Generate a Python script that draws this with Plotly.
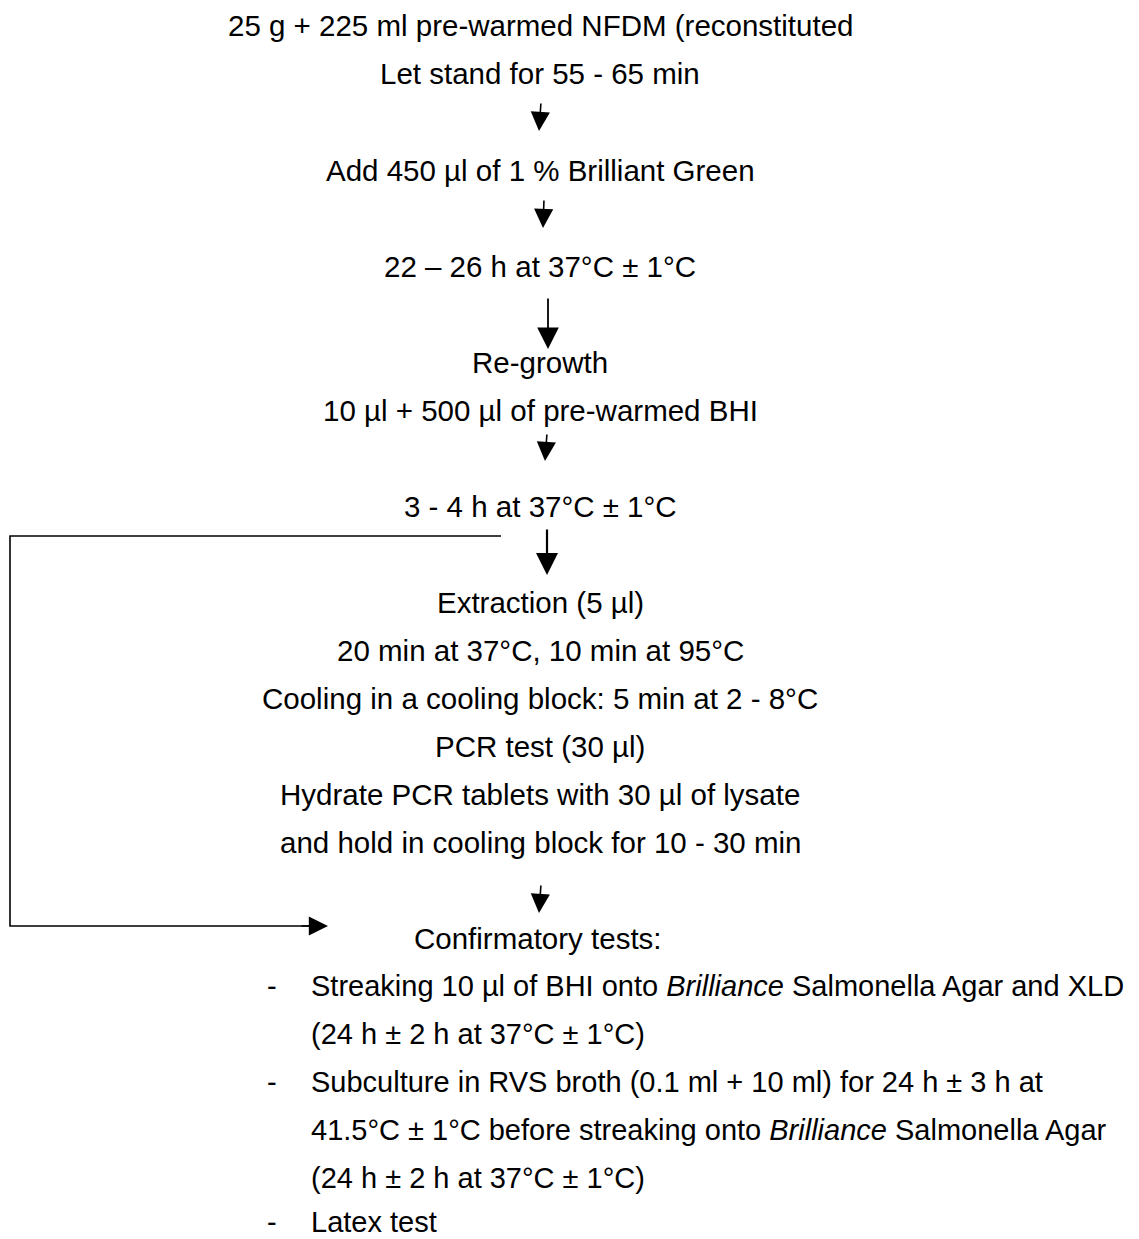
import plotly.graph_objects as go

W, H = 1139, 1239
PAGE_MARGIN = 8  # default body margin of the page

# ---- text content ----
center_lines = [
    "25 g + 225 ml pre-warmed NFDM (reconstituted",
    "Let stand for 55 - 65 min",
    "Add 450 µl of 1 % Brilliant Green",
    "22 – 26 h at 37°C ± 1°C",
    "Re-growth",
    "10 µl + 500 µl of pre-warmed BHI",
    "3 - 4 h at 37°C ± 1°C",
    "Extraction (5 µl)",
    "20 min at 37°C, 10 min at 95°C",
    "Cooling in a cooling block: 5 min at 2 - 8°C",
    "PCR test (30 µl)",
    "Hydrate PCR tablets with 30 µl of lysate",
    "and hold in cooling block for 10 - 30 min",
    "Confirmatory tests:",
]
center_y = [25.5, 73.5, 170, 266, 362, 410, 506, 602, 650, 698, 746, 794, 842, 938]
center_x = [540, 540, 540, 540, 540, 540, 540, 540, 540, 540, 540, 540, 540, 538]

bullet_marks = ["-", "", "-", "", "", "-"]
bullet_lines = [
    "Streaking 10 µl of BHI onto <i>Brilliance</i> Salmonella Agar and XLD",
    "(24 h ± 2 h at 37°C ± 1°C)",
    "Subculture in RVS broth (0.1 ml + 10 ml) for 24 h ± 3 h at",
    "41.5°C ± 1°C before streaking onto <i>Brilliance</i> Salmonella Agar",
    "(24 h ± 2 h at 37°C ± 1°C)",
    "Latex test",
]
bullet_y = [986, 1034, 1082, 1130, 1178, 1222]

# ---- arrows: start / end points ----
arrow_x0 = [541, 544, 548, 547, 547, 541]
arrow_y0 = [102, 199, 297, 433, 528, 884]
arrow_x1 = [539, 543, 548, 545, 547, 539]
arrow_y1 = [131, 228, 349, 461, 575, 913]
arrow_w = [1.6, 1.6, 1.8, 1.6, 2.2, 1.6]
arrow_head = [2.4, 2.4, 2.4, 2.4, 2.0, 2.4]

# bypass bracket
bracket_x = [501, 10, 10, 312]
bracket_y = [536, 536, 926, 926]

FONT = "Liberation Sans, Arial, sans-serif"
FS = 29.5
FS_BULLET = 29

fig = go.Figure()

annotations = []
for t, x, y in zip(center_lines, center_x, center_y):
    annotations.append(dict(x=x, y=y, xref="x", yref="y", text=t, showarrow=False,
                            xanchor="center", yanchor="middle",
                            font=dict(family=FONT, size=FS, color="black")))

for m, t, y in zip(bullet_marks, bullet_lines, bullet_y):
    if m:
        annotations.append(dict(x=266, y=y, xref="x", yref="y", text=m, showarrow=False,
                                xanchor="left", yanchor="middle", borderpad=0,
                                font=dict(family=FONT, size=FS_BULLET, color="black")))
    annotations.append(dict(x=310, y=y, xref="x", yref="y", text=t, showarrow=False,
                            xanchor="left", yanchor="middle", borderpad=0,
                            font=dict(family=FONT, size=FS_BULLET, color="black")))

for x0, y0, x1, y1, w, hs in zip(arrow_x0, arrow_y0, arrow_x1, arrow_y1, arrow_w, arrow_head):
    annotations.append(dict(x=x1, y=y1, ax=x0, ay=y0, xref="x", yref="y",
                            axref="x", ayref="y", text="", showarrow=True,
                            arrowhead=2, arrowsize=hs,
                            arrowwidth=w, arrowcolor="black", standoff=0))

# bracket line
fig.add_trace(go.Scatter(x=bracket_x, y=bracket_y, mode="lines",
                         line=dict(color="black", width=1.6), hoverinfo="skip",
                         showlegend=False))
annotations.append(dict(x=328, y=926, ax=300, ay=926, xref="x", yref="y",
                        axref="x", ayref="y", text="", showarrow=True,
                        arrowhead=2, arrowsize=2.4, arrowwidth=1.6,
                        arrowcolor="black", standoff=0))

fig.update_layout(
    width=W - PAGE_MARGIN, height=H - PAGE_MARGIN,
    margin=dict(l=0, r=0, t=0, b=0),
    paper_bgcolor="white", plot_bgcolor="white",
    xaxis=dict(range=[PAGE_MARGIN, W], visible=False, fixedrange=True),
    yaxis=dict(range=[H, PAGE_MARGIN], visible=False, fixedrange=True),
    annotations=annotations,
    showlegend=False,
)

fig.write_html("out.html")
